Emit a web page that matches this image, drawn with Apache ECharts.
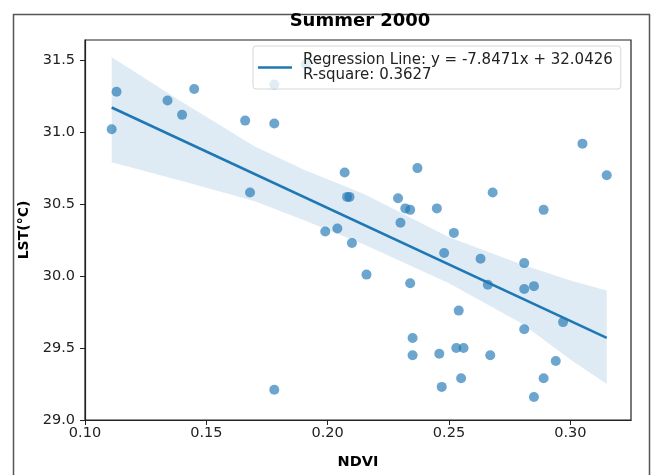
<!DOCTYPE html>
<html>
<head>
<meta charset="utf-8">
<script src="https://cdn.jsdelivr.net/npm/echarts@6/dist/echarts.min.js"></script>
<style>
html,body{margin:0;padding:0;background:#fff;}
#chart{width:654px;height:475px;}
</style>
</head>
<body>
<div id="chart"></div>
<script>
const titleText = 'Summer 2000';
const xName = 'NDVI';
const yName = 'LST(°C)';
const legendLabel = 'Regression Line: y = -7.8471x + 32.0426\nR-square: 0.3627';

const xTicks = [0.10, 0.15, 0.20, 0.25, 0.30];
const yTicks = [29.0, 29.5, 30.0, 30.5, 31.0, 31.5];

const ndvi = [0.111,0.113,0.134,0.140,0.145,0.166,0.168,0.178,0.178,0.191,
              0.178,0.199,0.204,0.207,0.208,0.209,0.210,0.216,0.229,0.230,
              0.232,0.234,0.234,0.235,0.235,0.237,0.245,0.246,0.247,0.248,
              0.252,0.253,0.254,0.255,0.256,0.263,0.266,0.267,0.268,0.281,
              0.281,0.281,0.285,0.285,0.289,0.289,0.294,0.297,0.305,0.315];
const lst  = [31.02,31.28,31.22,31.12,31.30,31.08,30.58,31.06,31.33,31.47,
              29.21,30.31,30.33,30.72,30.55,30.55,30.23,30.01,30.54,30.37,
              30.47,29.95,30.46,29.57,29.45,30.75,30.47,29.46,29.23,30.16,
              30.30,29.50,29.76,29.29,29.50,30.12,29.94,29.45,30.58,29.91,
              29.63,30.09,29.93,29.16,29.29,30.46,29.41,29.68,30.92,30.70];

const lineX = [0.111, 0.315];
const lineY = [31.171, 29.571];

const bandX     = [0.111, 0.140, 0.170, 0.190, 0.215, 0.250, 0.280, 0.300, 0.315];
const bandUpper = [31.52, 31.21, 30.90, 30.74, 30.57, 30.27, 30.08, 29.97, 29.90];
const bandLower = [30.79, 30.66, 30.52, 30.39, 30.22, 29.95, 29.67, 29.42, 29.25];

const chart = echarts.init(document.getElementById('chart'), null, {renderer:'canvas'});
const font = 'DejaVu Sans';

const scatterData = ndvi.map((x,i)=>[x, lst[i]]);
const lineData = lineX.map((x,i)=>[x, lineY[i]]);
const bandData = bandX.map((x,i)=>[x, bandUpper[i], bandLower[i]]);

chart.setOption({
  animation:false,
  backgroundColor:'#fff',
  title:{
    text:titleText, left:360, top:12, textAlign:'center', padding:0,
    textStyle:{fontFamily:font, fontSize:18, fontWeight:'bold', color:'#000'}
  },
  graphic:[{
    type:'rect', silent:true, z:-10,
    shape:{x:13.5, y:14.5, width:636, height:480},
    style:{fill:null, stroke:'#555', lineWidth:1.5}
  }],
  grid:{left:85, top:40, width:546, height:387, show:true, borderColor:'#222', borderWidth:1.2, backgroundColor:'transparent'},
  legend:{
    left:253, top:46, orient:'vertical',
    padding:[6,8,6,5],
    backgroundColor:'rgba(255,255,255,0.8)', borderColor:'#d6d6d6', borderWidth:1, borderRadius:3,
    itemWidth:34, itemHeight:2.5,
    data:[{name:legendLabel, icon:'rect'}],
    textStyle:{fontFamily:font, fontSize:15, lineHeight:15.5, color:'#222', padding:[0,0,0,6]},
    selectedMode:false, z:10
  },
  xAxis:{
    type:'value', min:0.10, max:0.325, interval:0.05,
    name:xName, nameLocation:'middle', nameGap:35,
    nameTextStyle:{fontFamily:font, fontSize:14.5, fontWeight:'bold', color:'#000'},
    axisLine:{show:true, lineStyle:{color:'#222', width:1.2}},
    axisTick:{show:true, length:5, lineStyle:{color:'#222'}, customValues:xTicks},
    axisLabel:{fontFamily:font, fontSize:14.5, color:'#222', margin:6, customValues:xTicks,
      formatter:v=>v.toFixed(2)},
    splitLine:{show:false}
  },
  yAxis:{
    type:'value', min:29.0, max:31.64, interval:0.5,
    name:yName, nameLocation:'middle', nameGap:52, nameRotate:90,
    nameTextStyle:{fontFamily:font, fontSize:14, fontWeight:'bold', color:'#000'},
    axisLine:{show:true, lineStyle:{color:'#222', width:1.2}},
    axisTick:{show:true, length:5, lineStyle:{color:'#222'}, customValues:yTicks},
    axisLabel:{fontFamily:font, fontSize:14.5, color:'#222', margin:10, customValues:yTicks,
      formatter:v=>v.toFixed(1)},
    splitLine:{show:false}
  },
  series:[
    {
      type:'custom', name:'band', silent:true, z:1,
      data:bandData,
      renderItem:function(params, api){
        if (params.dataIndex !== 0) return null;
        const up = bandData.map(d=>api.coord([d[0], d[1]]));
        const lo = bandData.slice().reverse().map(d=>api.coord([d[0], d[2]]));
        return {type:'polygon', shape:{points:up.concat(lo)}, style:{fill:'rgba(31,119,180,0.15)', stroke:null}};
      },
      encode:{x:0, y:[1,2]}
    },
    {
      type:'scatter', name:'points', z:2,
      data:scatterData, symbolSize:10,
      itemStyle:{color:'rgba(31,119,180,0.82)'}
    },
    {
      type:'line', name:legendLabel, z:3,
      data:lineData, symbol:'none',
      lineStyle:{color:'#1f77b4', width:2.6},
      itemStyle:{color:'#1f77b4'}
    }
  ]
});
</script>
</body>
</html>
